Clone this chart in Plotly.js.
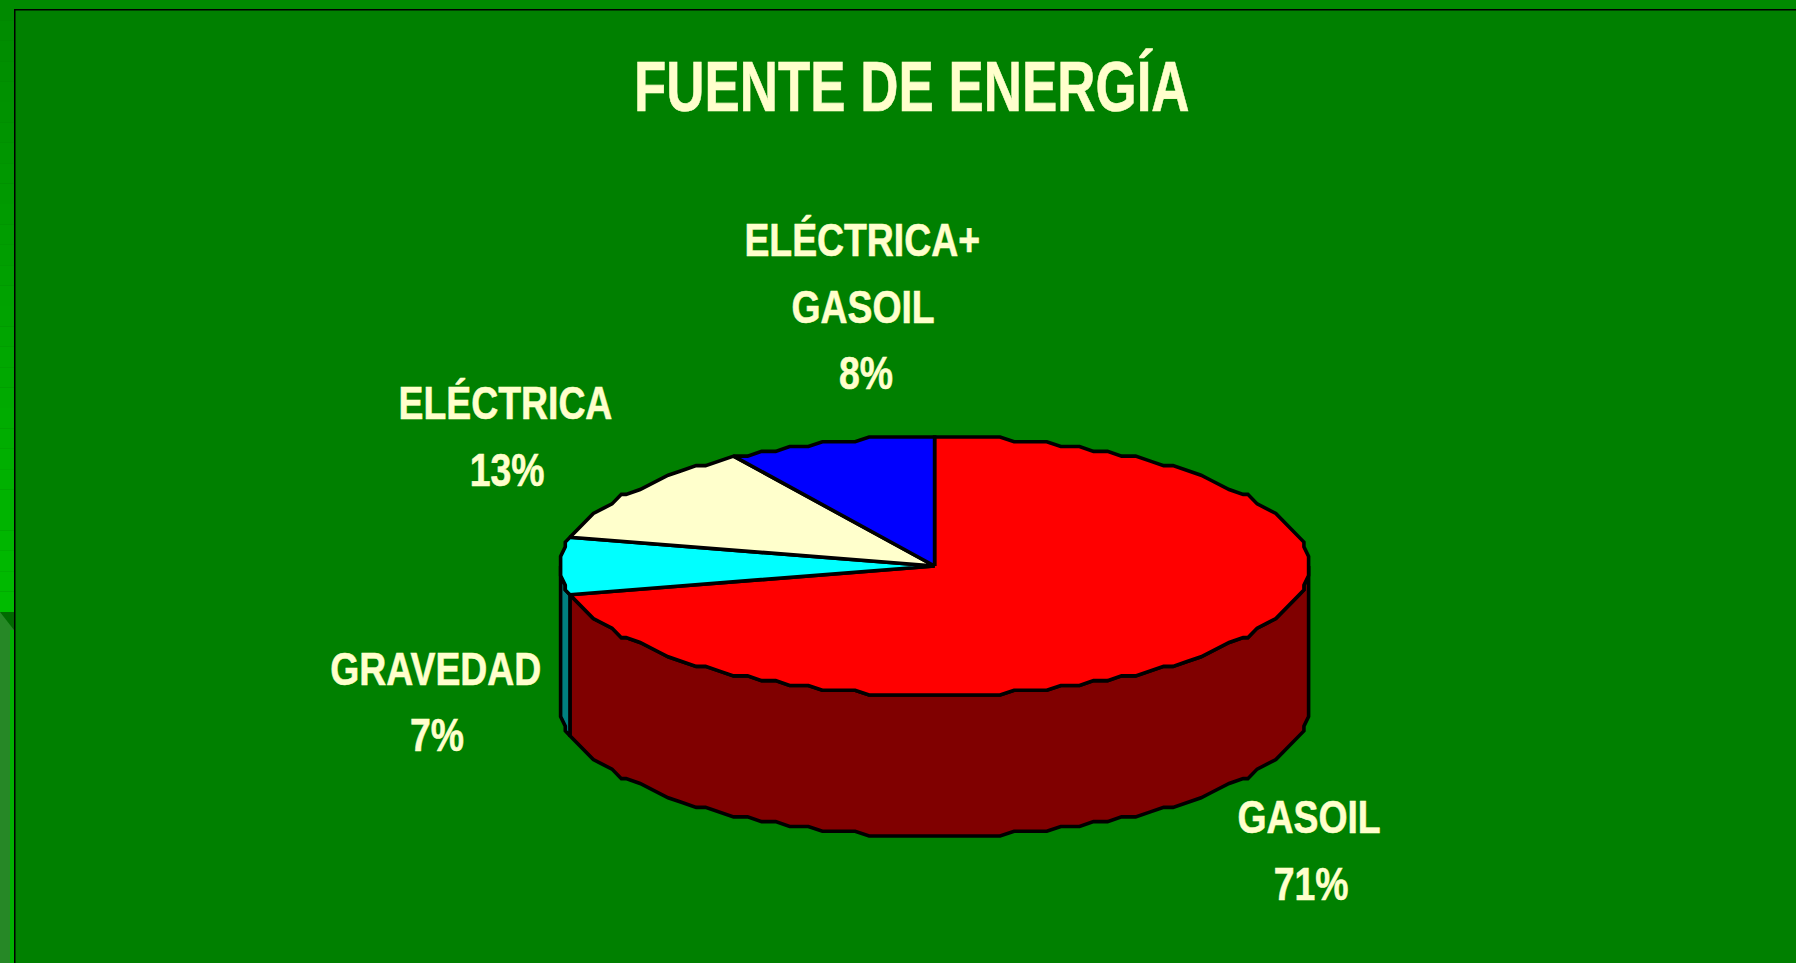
<!DOCTYPE html>
<html><head><meta charset="utf-8">
<script src="https://cdn.plot.ly/plotly-3.0.1.min.js"></script>
<style>html,body{margin:0;padding:0;background:#008000;overflow:hidden}</style>
</head><body><div id="chart" style="width:1796px;height:963px"></div>
<script>
// Data
const chartTitle = "FUENTE DE ENERGÍA";
const categories = ["GASOIL", "GRAVEDAD", "ELÉCTRICA", "ELÉCTRICA+GASOIL"];
const sliceShares = [71.7, 6.8, 12.4, 9.1];      // share of the drawn angle
const printedPercents = ["71%", "7%", "13%", "8%"];
const topColors = ["#FF0000", "#00FFFF", "#FFFFCC", "#0000FF"];
const sideColors = ["#800000", "#008080", "#808066", "#000080"];

// Layout of the disc, in axis units (1 unit = 1 px)
const cx = 934.6, cy = 566, rx = 374, ry = 129, depth = 141, gridX = 4.675, gridY = 4.778, stepDeg = 2.5;
const px = deg => cx + Math.round(rx * Math.sin(deg * Math.PI / 180) / gridX) * gridX;
const py = deg => cy + Math.round(-ry * Math.cos(deg * Math.PI / 180) / gridY) * gridY;
// All arcs share one sampling of the rim, so neighbouring faces have the same edge
function arc(a, b) {
  const ds = [a];
  for (let d = (Math.floor(a / stepDeg) + 1) * stepDeg; d < b; d += stepDeg) ds.push(d);
  ds.push(b);
  const xs = [], ys = [];
  ds.forEach(d => {
    const x = px(d), y = py(d);
    if (!xs.length || xs[xs.length - 1] !== x || ys[ys.length - 1] !== y) { xs.push(x); ys.push(y); }
  });
  return [xs, ys];
}
const traces = [];
function poly(xs, ys, color) {
  traces.push({type: "scatter", mode: "lines", x: xs, y: ys, fill: "toself", fillcolor: color,
    line: {color: "#000", width: 3.6, shape: "linear"}, hoverinfo: "skip", showlegend: false});
}
const total = sliceShares.reduce((a, b) => a + b, 0);
let acc = 0;
const spans = sliceShares.map(v => { const a = acc; acc += v / total * 360; return [a, acc]; });
// visible side walls: the front half of the rim, 90° to 270° clockwise from the top
spans.forEach((s, i) => {
  const a = Math.max(s[0], 90), b = Math.min(s[1], 270);
  if (b <= a) return;
  const [xs, ys] = arc(a, b);
  poly(xs.concat(xs.slice().reverse(), [xs[0]]),
       ys.concat(ys.slice().reverse().map(y => y + depth), [ys[0]]), sideColors[i]);
});
// top faces
spans.forEach((s, i) => {
  const [xs, ys] = arc(s[0], s[1]);
  poly([cx].concat(xs, [cx]), [cy].concat(ys, [cy]), topColors[i]);
});

const font = (size) => ({family: '"Liberation Sans",Arial,sans-serif', size: size, weight: 700, color: "#FFFFCC"});
const note = (t, x, y, size) => ({text: t, x: x, y: y, xref: "x", yref: "y", showarrow: false,
  xanchor: "center", yanchor: "middle", font: font(size)});
const annotations = [
  note(chartTitle, 912, 86, 71),
  note("ELÉCTRICA+", 862, 239, 47), note("GASOIL", 863, 306, 47), note(printedPercents[3], 866, 372, 47),
  note(categories[2], 505, 402, 47), note(printedPercents[2], 507, 469, 47),
  note(categories[1], 435, 668, 47), note(printedPercents[1], 437, 734, 47),
  note(categories[0], 1309, 816, 47), note(printedPercents[0], 1311, 883, 47)
];
// slide frame behind the chart
const rect = (x0, y0, x1, y1, c) => ({type: "rect", xref: "x", yref: "y", x0, y0, x1, y1, fillcolor: c, line: {width: 0}, layer: "below"});
const shapes = [rect(0, 0, 1796, 9, "#008A00")];
const bands = 30, stripEnd = 612;
for (let i = 0; i < bands; i++) {
  const g = Math.round(138 + (187 - 138) * i / (bands - 1));
  shapes.push(rect(0, stripEnd * i / bands, 14, stripEnd * (i + 1) / bands, "rgb(0," + g + ",0)"));
}
shapes.push(rect(0, stripEnd, 14, 963, "#268826"));
shapes.push({type: "path", xref: "x", yref: "y", path: "M0,612 L14,612 L14,630 Z", fillcolor: "#006A00", line: {width: 0}, layer: "below"});
shapes.push(rect(10, 630, 14, 963, "#00B000"));
shapes.push(rect(14, 9, 1796, 10.5, "#000"), rect(14, 9, 15.5, 963, "#000"));

Plotly.newPlot("chart", traces, {
  width: 1796, height: 963, margin: {l: 0, r: 0, t: 0, b: 0}, paper_bgcolor: "#008000", plot_bgcolor: "#008000",
  xaxis: {range: [0, 1796], visible: false, fixedrange: true},
  yaxis: {range: [963, 0], visible: false, fixedrange: true},
  annotations, shapes, showlegend: false
}, {displayModeBar: false, staticPlot: true}).then(gd => {
  // the reference's lettering is a narrow face: condense the real text to its widths
  gd.querySelectorAll(".annotation text").forEach(t => {
    const k = t.textContent === chartTitle ? 0.745 : 0.795;
    t.setAttribute("textLength", (t.getComputedTextLength() * k).toFixed(1));
    t.setAttribute("lengthAdjust", "spacingAndGlyphs");
    t.style.stroke = "#FFFFCC";
    t.style.strokeWidth = "0.6px";
  });
});
</script></body></html>
